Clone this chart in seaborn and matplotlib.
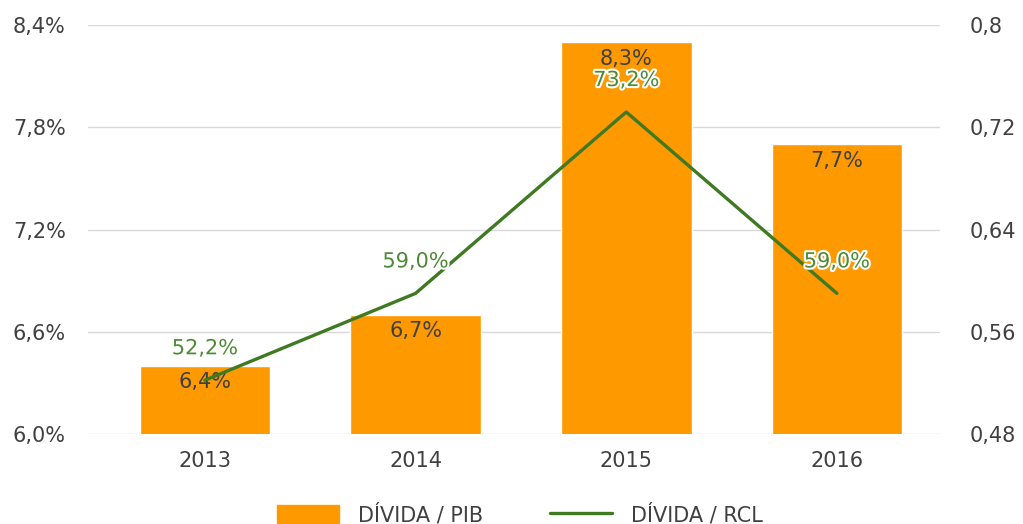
import pandas as pd
import matplotlib.pyplot as plt
import matplotlib.patheffects as pe
from matplotlib.patches import Patch
from matplotlib.lines import Line2D
import seaborn as sns

# dados
anos = ['2013', '2014', '2015', '2016']
divida_pib = [6.4, 6.7, 8.3, 7.7]
divida_rcl = [0.522, 0.590, 0.732, 0.590]

laranja = '#FF9900'
verde = '#3F7A22'
cinza = '#404040'
fs = 15

sns.set_theme(style='white')
plt.rcParams['font.family'] = ['DejaVu Sans']

df = pd.DataFrame({'ano': anos, 'pib': divida_pib, 'rcl': divida_rcl})

fig = plt.figure(figsize=(10.23, 5.24), dpi=100)
ax = fig.add_axes([0.086, 0.172, 0.833, 0.780])

# barras
sns.barplot(data=df, x='ano', y='pib', color=laranja, saturation=1, width=0.62, ax=ax, zorder=2)
ax.set_ylim(6.0, 8.4)
ax.set_yticks([6.0, 6.6, 7.2, 7.8, 8.4])
ax.set_yticklabels([f'{v:.1f}%'.replace('.', ',') for v in [6.0, 6.6, 7.2, 7.8, 8.4]])
ax.set_xlim(-0.555, 3.49)
ax.yaxis.grid(True, color='#D9D9D9', linewidth=1)
ax.set_axisbelow(True)
for s in ax.spines.values():
    s.set_visible(False)
ax.set_xlabel('')
ax.set_ylabel('')
ax.tick_params(axis='both', length=0, labelsize=fs, labelcolor=cinza)
ax.tick_params(axis='y', pad=16)
ax.tick_params(axis='x', pad=12)

for i, v in enumerate(divida_pib):
    ax.annotate(f'{v:.1f}%'.replace('.', ','), (i, v), xytext=(0, -12), textcoords='offset points',
                ha='center', va='center', fontsize=fs, color=cinza, zorder=3)

# linha
ax2 = ax.twinx()
sns.lineplot(data=df, x='ano', y='rcl', color=verde, linewidth=2.4, ax=ax2, zorder=4)
ax2.set_ylim(0.48, 0.8)
ax2.set_yticks([0.48, 0.56, 0.64, 0.72, 0.8])
ax2.set_yticklabels(['0,48', '0,56', '0,64', '0,72', '0,8'])
ax2.set_xlim(-0.555, 3.49)
for s in ax2.spines.values():
    s.set_visible(False)
ax2.set_ylabel('')
ax2.tick_params(axis='y', length=0, labelsize=fs, labelcolor=cinza, pad=21)

for i, v in enumerate(divida_rcl):
    ax2.annotate(f'{v * 100:.1f}%'.replace('.', ','), (i, v), xytext=(0, 23), textcoords='offset points',
                 ha='center', va='center', fontsize=fs, color='#4E8A35', zorder=5,
                 path_effects=[pe.withStroke(linewidth=3, foreground='white')])

# legenda
handles = [Patch(color=laranja), Line2D([0], [0], color=verde, linewidth=2.4)]
fig.legend(handles, ['DÍVIDA / PIB', 'DÍVIDA / RCL'], loc='center', bbox_to_anchor=(0.508, 0.018),
           ncol=2, frameon=False, fontsize=fs, labelcolor=cinza, handlelength=3.0,
           handleheight=0.9, columnspacing=3.2, handletextpad=0.9)

fig.savefig('out.png', dpi=100)
